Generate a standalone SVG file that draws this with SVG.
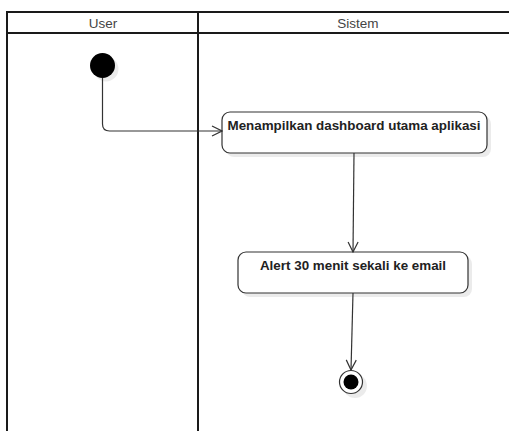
<svg xmlns="http://www.w3.org/2000/svg" width="509" height="431" viewBox="0 0 509 431">
  <defs>
    <style>
      .lane { fill: none; stroke: #1a1a1a; stroke-width: 2; }
      .hdr { font-family: "Liberation Sans", Arial, sans-serif; font-size: 13.5px; fill: #444; text-anchor: middle; }
      .act { fill: #ffffff; stroke: #333; stroke-width: 1.2; }
      .shadow { fill: #000; opacity: 0.08; }
      .lbl { font-family: "Liberation Sans", Arial, sans-serif; font-size: 13.4px; font-weight: bold; fill: #222; text-anchor: middle; }
      .edge { fill: none; stroke: #333; stroke-width: 1.2; }
    </style>
    <marker id="open" viewBox="0 0 12 12" refX="11" refY="6" markerWidth="12" markerHeight="12" markerUnits="userSpaceOnUse" orient="auto">
      <path d="M1,1 L11,6 L1,11" fill="none" stroke="#333" stroke-width="1.2"/>
    </marker>
  </defs>

  <!-- swimlanes -->
  <g id="lanes">
    <rect class="lane" x="7" y="12" width="520" height="440"/>
    <line class="lane" x1="7" y1="33" x2="527" y2="33"/>
    <line class="lane" x1="198" y1="12" x2="198" y2="452"/>
    <text class="hdr" x="103" y="28">User</text>
    <text class="hdr" x="358" y="28">Sistem</text>
  </g>

  <!-- start -->
  <g id="start">
    <circle class="shadow" cx="106" cy="69" r="12.5"/>
    <circle cx="102.5" cy="65.5" r="12.5" fill="#000"/>
  </g>

  <!-- activity 1 -->
  <g id="dashboard">
    <rect class="shadow" x="226" y="116" width="265" height="41" rx="8"/>
    <rect class="act" x="222" y="112" width="265" height="41" rx="8"/>
    <text class="lbl" x="354" y="130">Menampilkan dashboard utama aplikasi</text>
  </g>

  <!-- activity 2 -->
  <g id="alert">
    <rect class="shadow" x="242" y="256" width="230" height="41" rx="8"/>
    <rect class="act" x="238" y="252" width="230" height="41" rx="8"/>
    <text class="lbl" x="353" y="270">Alert 30 menit sekali ke email</text>
  </g>

  <!-- end -->
  <g id="end">
    <circle class="shadow" cx="355" cy="386" r="12"/>
    <circle cx="351" cy="382" r="11.5" fill="#fff" stroke="#333" stroke-width="1.2"/>
    <circle cx="351" cy="382" r="7.5" fill="#000"/>
  </g>

  <!-- connectors -->
  <g id="edges">
    <path class="edge" d="M102.5,78 L102.5,124 Q102.5,131 109.5,131 L222,131" marker-end="url(#open)"/>
    <path class="edge" d="M354,153 L353,252" marker-end="url(#open)"/>
    <path class="edge" d="M353,293 L351,370" marker-end="url(#open)"/>
  </g>
</svg>
